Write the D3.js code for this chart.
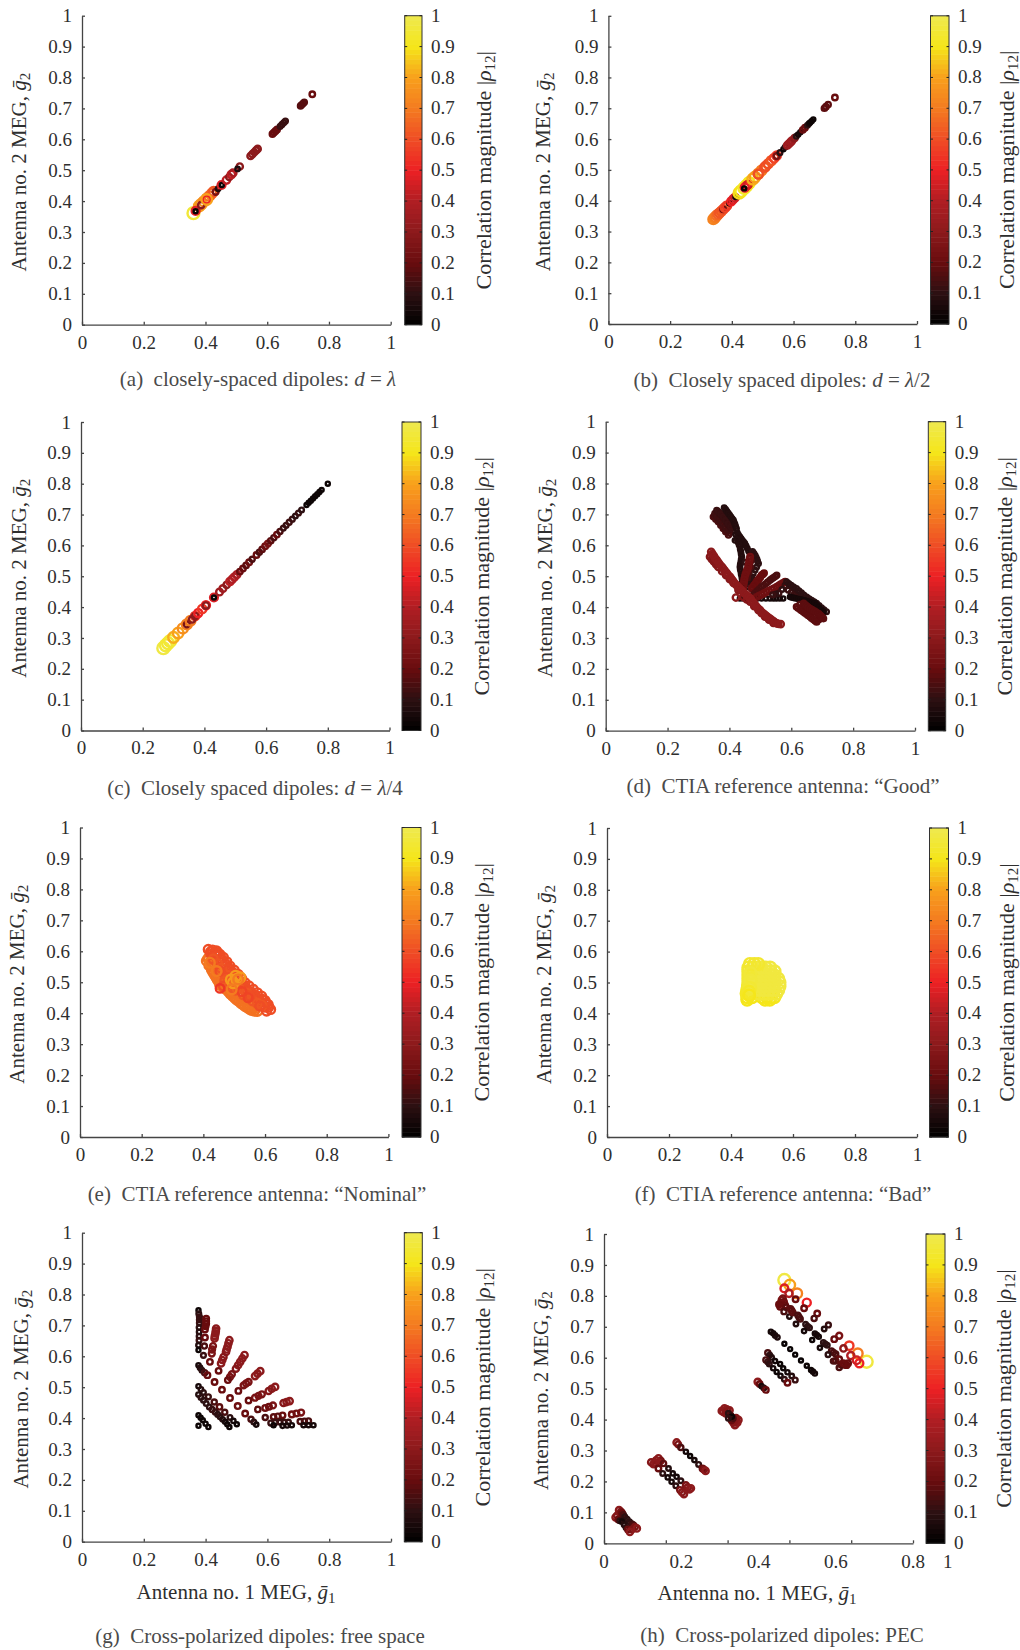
<!DOCTYPE html>
<html>
<head>
<meta charset="utf-8">
<title>Antenna MEG correlation</title>
<style>
  html, body { margin: 0; padding: 0; background: #fff; }
  svg { display: block; }
  text { font-family: "Liberation Serif", serif; fill: #2e2e2e; white-space: pre; }
  .axis path, .axis line { stroke: #444; stroke-width: 1.3; }
  .axis text, .cbLab { font-size: 19px; }
  .ttl { font-size: 21px; }
  .cbt { font-size: 22px; }
  .cap { font-size: 21px; fill: #4a4a4a; }
</style>
</head>
<body>
<script src="https://cdn.jsdelivr.net/npm/d3@7/dist/d3.min.js"></script>
<script>
// every row: MEG antenna 1, MEG antenna 2, correlation magnitude
var panelA = [
  [.361,.361,.96],[.380,.384,.8],[.386,.390,.78],[.395,.399,.75],[.404,.408,.72],[.412,.416,.68],[.420,.424,.65],[.426,.431,.62],
  [.368,.368,.48],[.368,.367,.02],[.386,.387,.3],[.404,.405,.5],[.404,.405,.8],[.433,.430,.25],[.441,.440,.08],
  [.452,.452,.47],[.453,.452,.02],[.468,.468,.42],[.477,.478,.3],[.484,.486,.42],[.489,.491,.38],[.511,.512,.3],[.504,.504,.07],
  [.546,.546,.3],[.552,.552,.3],[.558,.558,.3],[.564,.564,.3],[.569,.569,.3],
  [.617,.617,.2],[.622,.622,.2],[.627,.627,.2],[.632,.632,.2],
  [.642,.642,.12],[.648,.648,.12],[.654,.654,.12],[.659,.659,.12],
  [.708,.708,.17],[.712,.712,.17],[.716,.716,.17],[.720,.720,.17],[.746,.746,.2]
];
var panelB = [
  [.340,.340,.72],[.344,.344,.72],[.347,.347,.7],[.351,.352,.68],[.355,.356,.65],[.360,.360,.62],[.366,.366,.62],[.372,.372,.6],[.372,.372,.2],[.378,.378,.58],[.384,.384,.55],[.392,.392,.05],[.398,.398,.5],[.404,.404,.48],[.410,.410,.45],[.412,.412,.05],
  [.424,.425,.88],[.430,.431,.9],[.440,.441,.93],[.448,.449,.92],[.456,.458,.9],[.448,.449,.5],[.442,.443,.5],[.452,.452,.45],[.440,.440,.03],
  [.468,.470,.82],[.475,.477,.8],[.486,.488,.72],[.496,.498,.7],[.506,.508,.62],[.510,.512,.6],[.518,.520,.6],[.486,.486,.6],[.528,.530,.62],[.537,.538,.58],[.545,.546,.55],[.545,.545,.25],
  [.556,.556,.1],[.567,.567,.03],[.573,.574,.1],[.580,.580,.35],[.585,.585,.35],[.590,.590,.35],[.594,.594,.35],[.603,.603,.3],[.609,.609,.1],[.615,.615,.05],[.622,.622,.05],[.630,.630,.2],[.637,.637,.2],
  [.645,.645,.1],[.650,.650,.05],[.654,.654,.03],[.659,.659,.03],[.664,.664,.03],[.700,.700,.18],[.705,.705,.18],[.712,.712,.18],[.734,.735,.2]
];
var panelC = [
  [.267,.267,.98],[.275,.276,.96],[.282,.283,.95],[.289,.290,.95],[.300,.302,.82],[.315,.316,.8],[.330,.331,.75],[.343,.344,.72],[.343,.344,.25],[.355,.356,.7],
  [.370,.371,.55],[.370,.371,.3],[.360,.360,.3],[.380,.381,.5],[.393,.394,.55],[.405,.406,.5],[.405,.405,.3],[.431,.431,.47],[.431,.431,.03],
  [.449,.449,.35],[.460,.460,.35],[.472,.472,.3],[.483,.483,.42],[.490,.490,.4],[.497,.497,.4],[.505,.505,.38],
  [.515,.515,.2],[.525,.525,.2],[.535,.535,.18],[.545,.545,.22],[.555,.555,.15],[.569,.569,.2],[.578,.578,.15],[.587,.587,.18],[.597,.597,.22],
  [.606,.606,.25],[.615,.615,.18],[.625,.625,.15],[.635,.635,.2],[.645,.645,.15],[.656,.656,.12],[.665,.665,.12],[.675,.675,.13],[.685,.685,.12],[.695,.695,.1],[.705,.705,.12],[.715,.715,.1],
  [.731,.731,.03],[.738,.738,.03],[.745,.745,.03],[.752,.752,.03],[.759,.759,.03],[.766,.766,.03],[.773,.773,.03],[.780,.780,.03],[.800,.800,.03]
];
var panelD = [
  [.348,.692,.15],[.356,.684,.15],[.364,.676,.15],[.372,.665,.15],[.380,.654,.15],[.388,.644,.15],[.397,.633,.15],
  [.352,.697,.14],[.360,.689,.14],[.368,.679,.14],[.376,.668,.14],[.384,.657,.14],[.392,.648,.14],[.401,.640,.14],
  [.353,.703,.13],[.361,.692,.13],[.370,.682,.13],[.379,.671,.13],[.388,.658,.13],[.398,.650,.13],
  [.359,.713,.12],[.367,.705,.12],[.375,.697,.12],[.383,.687,.12],[.391,.676,.12],[.399,.665,.12],[.407,.654,.12],
  [.364,.709,.12],[.372,.701,.12],[.380,.692,.12],[.388,.681,.12],[.396,.670,.12],[.404,.660,.12],
  [.387,.717,.09],[.393,.708,.09],[.401,.697,.09],[.409,.686,.09],[.415,.675,.09],[.420,.661,.09],
  [.383,.722,.08],[.390,.713,.08],[.397,.703,.08],[.405,.692,.08],[.413,.681,.08],[.418,.668,.08],[.423,.654,.08],[.420,.635,.08],[.418,.616,.08],
  [.426,.640,.08],[.434,.627,.08],[.442,.616,.08],[.450,.606,.08],[.458,.590,.08],[.467,.573,.08],
  [.430,.633,.08],[.438,.621,.08],[.446,.611,.08],[.454,.598,.08],[.462,.581,.08],
  [.428,.610,.08],[.434,.595,.08],[.437,.579,.08],[.440,.563,.08],[.437,.546,.08],[.434,.530,.08],[.437,.514,.08],[.440,.498,.08],[.442,.482,.08],[.445,.466,.08],[.445,.449,.08],[.445,.433,.08],
  [.425,.620,.08],[.431,.602,.08],[.435,.587,.08],[.438,.571,.08],[.438,.554,.08],[.435,.538,.08],[.435,.522,.08],[.438,.506,.08],[.441,.490,.08],[.443,.474,.08],[.445,.457,.08],[.445,.441,.08],
  [.434,.428,.05],[.445,.428,.05],[.455,.428,.05],[.466,.428,.05],[.477,.428,.05],[.490,.428,.05],[.504,.428,.05],[.518,.428,.05],[.531,.428,.05],[.542,.428,.05],[.552,.428,.05],[.563,.428,.05],[.574,.428,.05],
  [.475,.580,.1],[.483,.568,.1],[.489,.555,.1],[.494,.541,.1],[.452,.545,.1],[.483,.520,.1],[.472,.498,.1],[.466,.482,.1],[.461,.466,.1],
  [.479,.574,.1],[.486,.561,.1],[.491,.548,.1],[.488,.530,.1],[.477,.509,.1],[.469,.490,.1],[.463,.474,.1],
  [.470,.550,.15],[.468,.530,.15],[.462,.512,.15],[.458,.495,.15],
  [.467,.563,.22],[.464,.547,.22],[.461,.530,.22],[.455,.514,.22],[.450,.498,.22],[.447,.482,.22],[.445,.466,.22],
  [.465,.555,.22],[.462,.538,.22],[.458,.522,.22],[.452,.506,.22],[.448,.490,.22],[.446,.474,.22],
  [.512,.510,.2],[.504,.503,.2],[.496,.492,.2],[.488,.482,.2],[.480,.471,.2],[.472,.460,.2],
  [.508,.506,.2],[.500,.497,.2],[.492,.487,.2],[.484,.476,.2],[.476,.465,.2],
  [.553,.503,.15],[.542,.495,.15],[.531,.487,.15],[.518,.476,.15],[.504,.466,.15],[.490,.452,.15],[.477,.439,.15],
  [.548,.499,.15],[.536,.491,.15],[.524,.481,.15],[.511,.471,.15],[.497,.459,.15],[.483,.445,.15],
  [.580,.482,.22],[.566,.474,.22],[.553,.466,.22],[.536,.457,.22],[.520,.449,.22],[.504,.441,.22],[.488,.433,.22],
  [.573,.478,.22],[.560,.470,.22],[.544,.461,.22],[.528,.453,.22],[.512,.445,.22],[.496,.437,.22],
  [.580,.470,.12],[.570,.457,.1],[.560,.445,.12],[.550,.442,.1],[.540,.440,.12],[.590,.455,.12],[.600,.448,.12],[.610,.442,.12],[.619,.438,.12],[.628,.435,.12],[.636,.431,.12],[.645,.428,.12],[.655,.420,.12],[.665,.412,.12],[.675,.403,.12],[.685,.395,.12],[.692,.386,.12],[.700,.378,.12],
  [.585,.482,.1],[.592,.476,.1],[.600,.471,.1],[.608,.465,.1],[.617,.460,.1],[.625,.453,.1],[.633,.446,.1],[.641,.439,.1],[.650,.433,.1],[.658,.427,.1],[.666,.422,.1],[.674,.417,.1],[.682,.412,.1],[.690,.405,.1],[.698,.398,.1],[.706,.391,.1],[.714,.385,.1],
  [.596,.433,.05],[.601,.431,.05],[.606,.430,.05],[.611,.429,.05],[.617,.428,.05],[.623,.426,.05],[.630,.425,.05],[.637,.423,.05],[.644,.422,.05],[.652,.419,.05],[.660,.417,.05],[.668,.414,.05],[.677,.412,.05],[.683,.405,.05],[.690,.398,.05],[.697,.391,.05],[.704,.385,.05],
  [.628,.408,.16],[.640,.398,.16],[.651,.390,.16],[.665,.382,.16],[.678,.372,.16],[.690,.360,.16],
  [.617,.401,.18],[.622,.397,.18],[.628,.393,.18],[.633,.389,.18],[.639,.385,.18],[.644,.381,.18],[.650,.377,.18],[.655,.373,.18],[.661,.369,.18],[.666,.364,.18],[.672,.360,.18],[.677,.356,.18],[.682,.352,.18],
  [.640,.412,.18],[.645,.407,.18],[.650,.403,.18],[.655,.399,.18],[.661,.395,.18],[.668,.391,.18],[.675,.387,.18],[.681,.383,.18],[.688,.379,.18],[.692,.375,.18],[.696,.371,.18],[.700,.367,.18],[.704,.363,.18],
  [.337,.563,.28],[.345,.565,.28],[.343,.555,.28],[.350,.547,.28],[.355,.550,.28],[.357,.538,.28],[.364,.530,.28],[.376,.516,.28],[.389,.503,.28],[.401,.490,.28],[.413,.478,.28],[.429,.455,.28],[.445,.433,.28],[.456,.425,.28],[.467,.417,.28],[.480,.403,.28],[.494,.390,.28],[.504,.380,.28],[.515,.369,.28],[.528,.359,.28],[.542,.349,.28],
  [.341,.579,.3],[.345,.572,.3],[.350,.565,.3],[.354,.558,.3],[.359,.552,.3],[.364,.545,.3],[.369,.538,.3],[.375,.531,.3],[.380,.525,.3],[.385,.518,.3],[.391,.511,.3],[.396,.504,.3],[.402,.498,.3],[.407,.491,.3],[.412,.484,.3],[.417,.477,.3],[.423,.471,.3],[.428,.465,.3],[.434,.460,.3],[.439,.454,.3],[.445,.449,.3],[.450,.443,.3],[.456,.438,.3],[.461,.433,.3],[.467,.428,.3],[.472,.421,.3],[.478,.414,.3],[.483,.407,.3],[.488,.401,.3],[.493,.395,.3],[.499,.390,.3],[.504,.384,.3],[.510,.379,.3],[.515,.375,.3],[.520,.371,.3],[.525,.367,.3],[.531,.363,.3],[.536,.359,.3],[.542,.355,.3],[.547,.351,.3],[.553,.347,.3],[.558,.346,.3],[.566,.345,.3],
  [.421,.431,.3]
];
var panelE = [
  [.411,.569,.68],[.419,.555,.68],[.427,.542,.68],[.435,.528,.68],[.443,.515,.68],[.449,.504,.68],[.454,.493,.68],[.464,.485,.68],[.475,.477,.68],[.488,.463,.68],[.502,.450,.68],[.515,.439,.68],[.529,.428,.68],[.542,.419,.68],[.556,.410,.68],[.575,.407,.68],
  [.416,.577,.68],[.431,.535,.68],[.439,.521,.68],[.446,.510,.68],[.459,.489,.68],[.469,.481,.68],[.482,.470,.68],[.495,.456,.68],[.508,.444,.68],[.522,.433,.68],[.535,.423,.68],[.549,.414,.68],[.565,.408,.68],
  [.418,.575,.68],[.430,.558,.68],[.442,.540,.68],[.456,.516,.68],[.474,.492,.68],[.498,.470,.68],[.522,.450,.68],[.548,.430,.68],[.570,.417,.68],
  [.425,.565,.68],[.437,.550,.68],[.450,.525,.68],[.462,.505,.68],[.485,.480,.68],[.510,.460,.68],[.535,.440,.68],[.560,.422,.68],
  [.416,.606,.6],[.430,.604,.6],[.443,.601,.6],[.454,.590,.6],[.465,.580,.6],[.476,.566,.6],[.486,.5525,.6],[.500,.539,.6],[.513,.5255,.6],[.524,.512,.6],[.535,.4985,.6],[.548,.488,.6],[.562,.477,.6],[.575,.466,.6],[.589,.455,.6],[.600,.441,.6],[.610,.428,.6],[.618,.412,.6],
  [.423,.598,.6],[.437,.595,.6],[.448,.594,.6],[.459,.575,.6],[.471,.560,.6],[.482,.546,.6],[.494,.533,.6],[.507,.520,.6],[.518,.505,.6],[.530,.490,.6],[.542,.476,.6],[.556,.460,.6],[.568,.458,.6],[.578,.446,.6],[.592,.445,.6],[.604,.432,.6],[.612,.420,.6],
  [.425,.590,.6],[.440,.585,.6],[.452,.570,.6],[.465,.555,.6],[.478,.535,.6],[.492,.528,.6],[.520,.495,.6],[.535,.480,.6],[.550,.468,.6],[.570,.450,.6],[.585,.438,.6],[.600,.420,.6],
  [.432,.575,.62],[.446,.560,.62],[.458,.545,.62],[.470,.525,.62],[.485,.520,.62],[.470,.505,.62],[.480,.495,.62],[.495,.480,.62],[.505,.475,.62],[.515,.480,.62],[.530,.460,.62],[.540,.465,.62],[.560,.440,.62],[.575,.432,.62],[.590,.425,.62],
  [.454,.536,.6],[.481,.542,.6],[.465,.488,.6],[.551,.455,.6],[.583,.423,.6],[.605,.407,.6],[.454,.480,.55],[.525,.470,.58],[.545,.450,.58],
  [.508,.509,.78],[.519,.515,.78],[.497,.498,.78],[.505,.520,.78],[.490,.508,.78],[.421,.563,.7],[.443,.536,.7],[.492,.477,.7],[.513,.509,.7]
];
var panelF = [
  [.452,.452,.9],[.468,.452,.9],[.500,.452,.9],[.516,.452,.9],[.530,.452,.9],[.540,.452,.9],[.452,.444,.9],[.510,.444,.9],[.525,.444,.9],
  [.450,.464,.92],[.464,.464,.92],[.478,.464,.92],[.492,.464,.95],[.506,.464,.95],[.520,.464,.95],[.534,.464,.95],[.546,.464,.95],
  [.452,.476,.92],[.466,.476,.95],[.480,.476,.97],[.494,.476,.97],[.508,.476,.97],[.522,.476,.97],[.536,.476,.97],[.552,.476,.97],
  [.455,.488,.95],[.468,.488,.97],[.482,.488,.97],[.496,.488,.97],[.510,.488,.97],[.524,.488,.97],[.538,.488,.97],[.556,.488,.97],
  [.456,.500,.95],[.470,.500,.97],[.484,.500,.97],[.498,.500,.97],[.512,.500,.97],[.526,.500,.97],[.540,.500,.97],[.556,.500,.97],
  [.456,.512,.95],[.470,.512,.97],[.484,.512,.97],[.498,.512,.97],[.512,.512,.97],[.526,.512,.97],[.540,.512,.97],[.552,.512,.97],
  [.456,.524,.95],[.470,.524,.97],[.484,.524,.97],[.498,.524,.97],[.512,.524,.97],[.526,.524,.97],[.538,.524,.97],
  [.456,.536,.95],[.470,.536,.97],[.484,.536,.97],[.498,.536,.97],[.512,.536,.97],[.526,.536,.97],[.540,.536,.97],
  [.456,.548,.95],[.470,.548,.95],[.484,.548,.95],[.498,.548,.97],[.512,.548,.97],[.526,.548,.97],
  [.461,.560,.94],[.475,.560,.94],[.488,.560,.94],[.463,.530,.96],[.463,.506,.96],[.462,.482,.95],[.458,.470,.92],[.459,.458,.9]
];
var panelG = [
  [.377,.749,.03],[.378,.738,.1],[.380,.728,.12],[.380,.718,.12],[.380,.708,.12],[.379,.693,.1],[.379,.679,.08],[.379,.665,.1],[.379,.652,.12],[.377,.636,.08],[.377,.620,.03],
  [.402,.722,.2],[.402,.714,.2],[.402,.706,.2],[.400,.697,.2],[.398,.687,.2],[.398,.661,.2],[.396,.633,.15],[.393,.603,.12],
  [.434,.690,.3],[.433,.682,.3],[.432,.674,.3],[.430,.666,.3],[.429,.658,.3],[.424,.633,.25],[.421,.622,.25],[.420,.609,.25],[.414,.582,.2],
  [.477,.652,.3],[.474,.642,.3],[.471,.631,.3],[.468,.622,.3],[.466,.614,.3],[.458,.598,.28],[.454,.588,.3],[.450,.577,.3],[.442,.553,.2],
  [.526,.604,.3],[.519,.593,.3],[.512,.582,.3],[.505,.571,.3],[.498,.560,.28],[.485,.542,.25],[.479,.533,.25],[.472,.523,.2],
  [.577,.552,.3],[.568,.544,.3],[.560,.536,.3],[.539,.517,.25],[.531,.512,.25],[.523,.506,.25],[.506,.488,.2],
  [.625,.501,.3],[.614,.495,.3],[.604,.488,.28],[.582,.477,.25],[.571,.472,.25],[.560,.466,.25],[.539,.457,.2],
  [.672,.455,.3],[.662,.452,.3],[.652,.449,.28],[.618,.441,.25],[.605,.437,.22],[.593,.433,.22],[.569,.428,.18],
  [.709,.418,.25],[.694,.415,.22],[.679,.412,.22],[.649,.409,.2],[.634,.406,.18],[.620,.404,.18],[.593,.402,.15],
  [.733,.391,.15],[.720,.390,.15],[.706,.389,.15],[.668,.387,.12],[.654,.387,.12],[.641,.387,.12],[.625,.386,.12],[.611,.384,.12],
  [.749,.377,.05],[.733,.377,.05],[.717,.377,.05],[.679,.377,.05],[.664,.376,.05],[.649,.375,.05],[.620,.377,.03],
  [.377,.571,.05],[.382,.563,.08],[.388,.555,.1],[.397,.547,.15],[.406,.539,.2],[.429,.517,.2],[.453,.492,.2],[.479,.465,.2],[.504,.439,.22],[.528,.415,.2],[.547,.396,.15],[.556,.387,.1],[.564,.379,.05],
  [.377,.503,.05],[.385,.493,.08],[.393,.483,.1],[.409,.469,.12],[.428,.452,.15],[.445,.436,.18],[.462,.419,.15],[.479,.402,.1],[.490,.391,.05],[.501,.380,.03],
  [.377,.476,.08],[.385,.467,.1],[.393,.458,.1],[.402,.447,.1],[.412,.436,.1],[.421,.428,.12],[.431,.420,.12],[.439,.412,.1],[.447,.404,.1],[.455,.396,.08],[.463,.388,.05],[.470,.380,.03],[.477,.371,.03],
  [.377,.409,.03],[.384,.401,.03],[.391,.393,.03],[.400,.382,.03],[.409,.371,.03],[.377,.375,.03]
];
var panelH = [
  [.039,.107,.3],[.030,.084,.3],[.034,.090,.28],[.044,.102,.25],[.047,.097,.2],[.037,.077,.2],[.050,.092,.15],[.041,.073,.1],[.054,.086,.1],[.060,.078,.1],[.066,.070,.1],[.072,.063,.12],[.046,.070,.05],[.052,.060,.08],[.057,.051,.1],[.062,.045,.2],[.076,.059,.15],[.080,.053,.25],[.073,.045,.25],[.085,.048,.3],[.067,.037,.3],
  [.141,.275,.3],[.147,.267,.25],[.135,.268,.3],[.154,.258,.18],[.167,.242,.08],[.178,.226,.05],[.188,.215,.05],[.199,.202,.1],[.212,.188,.25],[.216,.180,.28],[.225,.178,.3],[.221,.174,.3],
  [.128,.256,.3],[.122,.262,.28],[.133,.260,.3],[.141,.242,.2],[.152,.226,.1],[.165,.213,.05],[.175,.199,.05],[.186,.186,.1],[.197,.172,.25],[.202,.165,.28],[.207,.159,.3],
  [.188,.326,.3],[.192,.320,.25],[.199,.310,.15],[.212,.296,.05],[.223,.282,.03],[.234,.269,.05],[.245,.255,.1],[.255,.242,.2],[.259,.238,.25],[.263,.234,.3],
  [.318,.433,.3],[.309,.425,.3],[.312,.436,.3],[.325,.430,.3],[.305,.428,.3],[.320,.428,.28],[.315,.420,.28],[.339,.396,.3],[.348,.399,.3],[.339,.382,.3],[.345,.390,.3],[.335,.390,.28],[.342,.405,.28],[.330,.398,.2],[.328,.413,.15],[.334,.404,.15],[.322,.420,.1],[.331,.409,.03],[.322,.404,.1],
  [.398,.522,.3],[.403,.515,.2],[.408,.508,.05],[.414,.502,.1],[.419,.496,.2],
  [.424,.616,.15],[.429,.609,.1],[.434,.601,.08],[.443,.589,.04],[.456,.580,.03],[.464,.566,.03],[.475,.553,.05],[.486,.541,.08],[.495,.528,.12],
  [.419,.593,.15],[.424,.587,.12],[.428,.580,.1],[.438,.566,.05],[.447,.554,.03],[.457,.542,.04],[.467,.530,.1],[.475,.519,.2],
  [.432,.684,.05],[.438,.679,.05],[.443,.672,.06],[.449,.666,.07],[.467,.645,.02],[.482,.628,.02],[.495,.610,.02],[.510,.591,.02],[.525,.574,.03],[.536,.560,.03],[.541,.555,.04],[.546,.549,.05],
  [.467,.851,.98],[.481,.835,.8],[.500,.808,.72],[.525,.778,.5],[.467,.824,.47],[.479,.808,.4],[.496,.789,.2],[.518,.760,.2],
  [.552,.743,.2],[.544,.727,.15],[.581,.706,.12],[.570,.693,.08],[.609,.671,.25],[.596,.660,.2],[.635,.639,.55],[.620,.630,.3],
  [.680,.587,.97],[.657,.614,.7],[.639,.607,.4],[.661,.582,.5],[.654,.592,.45],
  [.460,.787,.25],[.463,.792,.25],[.466,.780,.22],[.458,.777,.22],[.453,.772,.2],[.469,.770,.2],[.456,.765,.2],[.472,.763,.18],[.466,.749,.15],[.480,.733,.08],
  [.486,.752,.18],[.483,.758,.18],[.489,.746,.18],[.505,.731,.15],[.502,.737,.15],[.508,.725,.15],[.497,.709,.08],
  [.527,.702,.1],[.522,.708,.1],[.532,.697,.1],[.518,.686,.05],[.551,.673,.05],[.546,.678,.05],[.556,.668,.05],[.539,.657,.03],[.573,.644,.1],[.568,.649,.1],[.578,.640,.1],[.559,.632,.05],
  [.594,.617,.15],[.589,.622,.15],[.600,.612,.15],[.580,.610,.1],[.609,.595,.2],[.600,.590,.18],[.594,.589,.15],[.628,.576,.2],[.614,.577,.18],[.622,.577,.2],[.632,.582,.2],[.609,.568,.15],[.620,.582,.2]
];

var yTicks = [0, .1, .2, .3, .4, .5, .6, .7, .8, .9, 1];
var xTicks = [0, .2, .4, .6, .8, 1];
// panel (h) has its own x axis: ticks and labels do not line up
var hXMarks = [0, .16, .32, .48, .64, .8];
var hXLabelAt = [0, .2, .4, .6, .8, .89];
var hXLabels = ["0", "0.2", "0.4", "0.6", "0.8", "1"];
var colorStops = [0, .1, .2, .3, .4, .5, .6, .7, .8, .9, 1];
var colorValues = ["#000000", "#2c1012", "#680c0e", "#8c1a1c", "#b01e23", "#ed2024", "#ef4d25", "#f47b20", "#f8a01c", "#f5e61a", "#efe94f"];

var layout = [
  { data: panelA, l: 82, r: 390.7, t: 15.7, b: 324.7, cl: 404.7, cr: 422, yl: 25.7, ct: 86, cap: ["(a)  closely-spaced dipoles: ", "d", " = ", "λ"], capX: 258, capY: 386 },
  { data: panelB, l: 608.4, r: 917, t: 15.8, b: 324, cl: 930.5, cr: 949, yl: 550, ct: 83, cap: ["(b)  Closely spaced dipoles: ", "d", " = ", "λ", "/2"], capX: 782, capY: 387 },
  { data: panelC, l: 81, r: 389.5, t: 422, b: 730.5, cl: 402, cr: 421, yl: 25.7, ct: 87, cap: ["(c)  Closely spaced dipoles: ", "d", " = ", "λ", "/4"], capX: 255, capY: 795 },
  { data: panelD, l: 605.7, r: 915, t: 421.7, b: 730.7, cl: 928.3, cr: 945.7, yl: 551.7, ct: 84, cap: ["(d)  CTIA reference antenna: “Good”"], capX: 783, capY: 793 },
  { data: panelE, l: 80, r: 388.4, t: 827.5, b: 1137, cl: 402, cr: 421, yl: 24, ct: 87, cap: ["(e)  CTIA reference antenna: “Nominal”"], capX: 257, capY: 1201 },
  { data: panelF, l: 607, r: 917, t: 828, b: 1137, cl: 929.5, cr: 948.5, yl: 551, ct: 84, cap: ["(f)  CTIA reference antenna: “Bad”"], capX: 783, capY: 1201 },
  { data: panelG, l: 82, r: 391, t: 1232.7, b: 1541.7, cl: 404.3, cr: 422.3, yl: 28, ct: 86, cap: ["(g)  Cross-polarized dipoles: free space"], capX: 260, capY: 1643, xl: 236 },
  { data: panelH, l: 604, r: 913, t: 1234, b: 1543.3, cl: 926, cr: 945, yl: 548, ct: 85, cap: ["(h)  Cross-polarized dipoles: PEC"], capX: 782, capY: 1642, xl: 757, trimmed: true }
];

var svg = d3.select("body").append("svg").attr("width", 1020).attr("height", 1650);

var color = d3.scaleLinear().domain(colorStops).range(colorValues);
var radius = d3.scaleLinear().domain([0, 1]).range([1.9, 6.1]);

function addParts(sel, parts) {
  parts.forEach(function(p, i) {
    sel.append("tspan").style("font-style", i % 2 ? "italic" : "normal").text(p);
  });
}

function gbar(sel, sub) {
  // g with a bar over it and a lowered index
  sel.append("tspan").style("font-style", "italic").text("ḡ");
  sel.append("tspan").attr("dy", 4).style("font-size", "15px").text(sub);
}

layout.forEach(function(p) {
  var x = d3.scaleLinear().domain(p.trimmed ? [0, .8] : [0, 1]).range([p.l, p.r]);
  var y = d3.scaleLinear().domain([0, 1]).range([p.b, p.t]);
  var g = svg.append("g");

  // points, open rings
  g.selectAll("circle").data(p.data).enter().append("circle")
    .attr("cx", function(d) { return x(d[0]); })
    .attr("cy", function(d) { return y(d[1]); })
    .attr("r", function(d) { return radius(d[2]); })
    .attr("fill", "none")
    .attr("stroke", function(d) { return color(d[2]); })
    .attr("stroke-width", 2.4);

  // axes
  var xAxis = d3.axisBottom(x).tickSizeInner(-3).tickSizeOuter(0).tickPadding(10.5);
  if (p.trimmed) xAxis.tickValues(hXMarks).tickFormat("");
  else xAxis.tickValues(xTicks).tickFormat(d3.format("~g"));
  var gx = g.append("g").attr("class", "axis").attr("transform", "translate(0," + p.b + ")").call(xAxis);
  gx.selectAll("text").attr("fill", null);
  gx.selectAll("line").attr("stroke", null);
  gx.select(".domain").attr("stroke", null);

  if (p.trimmed) {
    g.selectAll(".hLab").data(hXLabels).enter().append("text")
      .attr("class", "cbLab").attr("text-anchor", "middle")
      .attr("x", function(d, i) { return x(hXLabelAt[i]); })
      .attr("y", p.b + 24.5)
      .text(function(d) { return d; });
  }

  var gy = g.append("g").attr("class", "axis").attr("transform", "translate(" + p.l + ",0)")
    .call(d3.axisLeft(y).tickValues(yTicks).tickFormat(d3.format("~g")).tickSizeInner(-3).tickSizeOuter(0).tickPadding(10));
  gy.selectAll("text").attr("fill", null);
  gy.selectAll("line").attr("stroke", null);
  gy.select(".domain").attr("stroke", null);

  // y title
  var yt = g.append("text").attr("class", "ttl").attr("text-anchor", "middle")
    .attr("transform", "translate(" + p.yl + "," + (y(.5) + 2) + ") rotate(-90)");
  yt.append("tspan").text("Antenna no. 2 MEG, ");
  gbar(yt, "2");

  // x title, bottom row only
  if (p.xl) {
    var xt = g.append("text").attr("class", "ttl").attr("text-anchor", "middle")
      .attr("x", p.xl).attr("y", p.b + 57);
    xt.append("tspan").text("Antenna no. 1 MEG, ");
    gbar(xt, "1");
  }

  // colorbar, 64 steps like a matlab colormap
  var cy = d3.scaleLinear().domain([0, 1]).range([p.b, p.t]);
  g.selectAll(".band").data(d3.range(64)).enter().append("rect")
    .attr("x", p.cl).attr("width", p.cr - p.cl)
    .attr("y", function(i) { return cy((i + 1) / 64); })
    .attr("height", function(i) { return cy(i / 64) - cy((i + 1) / 64) + .5; })
    .attr("fill", function(i) { return color((i + .5) / 64); });
  g.append("rect").attr("x", p.cl).attr("y", p.t).attr("width", p.cr - p.cl).attr("height", p.b - p.t)
    .attr("fill", "none").attr("stroke", "#333").attr("stroke-width", 1);
  var ticks = g.selectAll(".cbTick").data(yTicks).enter().append("g");
  ticks.append("line").attr("x1", p.cl).attr("x2", p.cl + 2.5)
    .attr("y1", function(d) { return cy(d); }).attr("y2", function(d) { return cy(d); })
    .attr("stroke", "#222").attr("stroke-width", 1);
  ticks.append("line").attr("x1", p.cr - 2.5).attr("x2", p.cr)
    .attr("y1", function(d) { return cy(d); }).attr("y2", function(d) { return cy(d); })
    .attr("stroke", "#222").attr("stroke-width", 1);
  ticks.append("text").attr("class", "cbLab")
    .attr("x", p.cr + 9).attr("y", function(d) { return cy(d) + 6; })
    .text(function(d) { return d3.format("~g")(d); });

  // colorbar title
  var ct = g.append("text").attr("class", "cbt").attr("text-anchor", "middle")
    .attr("transform", "translate(" + (p.cl + p.ct) + "," + y(.5) + ") rotate(-90)");
  ct.append("tspan").text("Correlation magnitude |");
  ct.append("tspan").style("font-style", "italic").text("ρ");
  ct.append("tspan").attr("dy", 4).style("font-size", "15px").text("12");
  ct.append("tspan").attr("dy", -4).text("|");

  // caption
  var cap = g.append("text").attr("class", "cap").attr("text-anchor", "middle").attr("x", p.capX).attr("y", p.capY);
  addParts(cap, p.cap);
});
</script>
</body>
</html>
